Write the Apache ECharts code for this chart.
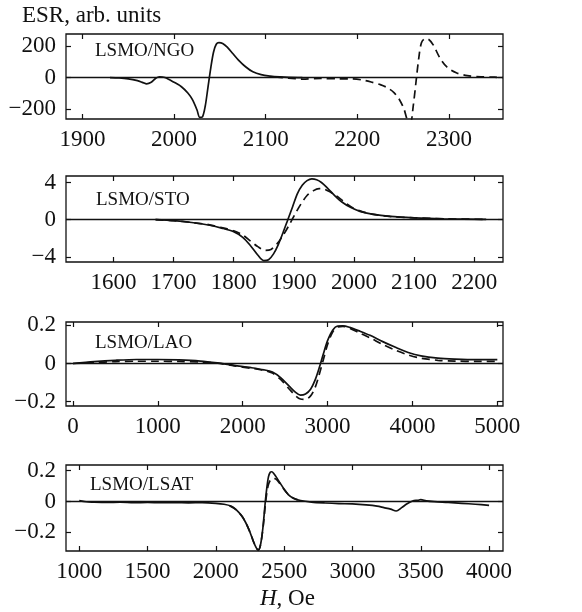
<!DOCTYPE html>
<html>
<head>
<meta charset="utf-8">
<script src="https://cdn.jsdelivr.net/npm/echarts@6/dist/echarts.min.js"></script>
<style>
  html, body { margin: 0; padding: 0; background: #fff; }
  #chart { width: 582px; height: 612px; }
</style>
</head>
<body>
<div id="chart"></div>
<script>
// ESR spectra of LSMO films on four substrates (field H in Oe, signal in arb. units)

// LSMO/NGO
const ngoFieldA = [1930, 1940, 1950, 1960, 1966, 1970, 1975, 1980, 1984, 1990, 2000, 2008, 2015, 2020, 2025, 2028, 2031, 2034, 2037, 2040, 2043, 2046, 2049, 2053, 2058, 2064, 2070, 2078, 2086, 2095, 2105, 2115, 2125, 2140];
const ngoSignalA = [0, -2, -8, -20, -32, -40, -30, -5, 5, 0, -30, -58, -98, -140, -205, -252, -248, -180, -60, 60, 160, 210, 220, 215, 192, 152, 112, 68, 36, 18, 9, 4, 1, 0];
const ngoFieldB = [2110, 2125, 2140, 2160, 2180, 2195, 2205, 2215, 2225, 2233, 2240, 2246, 2251, 2255, 2258, 2261, 2264, 2267, 2270, 2274, 2278, 2283, 2290, 2298, 2308, 2320, 2335, 2350, 2359];
const ngoSignalB = [4, -4, -10, -6, -8, -9, -15, -28, -45, -65, -95, -140, -200, -275, -285, -180, -30, 120, 220, 245, 240, 205, 125, 65, 30, 12, 5, 2, 0];

// LSMO/STO
const stoFieldA = [1670, 1700, 1730, 1760, 1780, 1800, 1815, 1828, 1840, 1850, 1858, 1866, 1874, 1882, 1890, 1898, 1906, 1914, 1922, 1930, 1938, 1946, 1956, 1968, 1980, 1995, 2010, 2030, 2060, 2100, 2150, 2220];
const stoSignalA = [0, -0.1, -0.3, -0.6, -0.9, -1.3, -1.9, -2.8, -3.8, -4.4, -4.3, -3.7, -2.7, -1.4, 0, 1.4, 2.8, 3.7, 4.2, 4.4, 4.3, 4.0, 3.4, 2.6, 1.9, 1.3, 0.9, 0.6, 0.35, 0.2, 0.1, 0.03];
const stoFieldB = [1670, 1700, 1730, 1760, 1780, 1800, 1815, 1828, 1840, 1852, 1862, 1872, 1882, 1892, 1902, 1912, 1922, 1932, 1942, 1950, 1960, 1970, 1982, 1995, 2010, 2030, 2060, 2100, 2150, 2220];
const stoSignalB = [0, -0.1, -0.3, -0.55, -0.85, -1.2, -1.65, -2.3, -2.9, -3.3, -3.2, -2.6, -1.7, -0.6, 0.6, 1.7, 2.6, 3.1, 3.35, 3.3, 3.0, 2.6, 2.0, 1.4, 0.95, 0.6, 0.35, 0.2, 0.1, 0.03];

// LSMO/LAO
const laoField = [0, 250, 500, 750, 1000, 1250, 1500, 1700, 1900, 2100, 2250, 2350, 2450, 2550, 2620, 2680, 2740, 2800, 2850, 2900, 2950, 3000, 3060, 3120, 3180, 3260, 3380, 3500, 3650, 3800, 3950, 4100, 4300, 4500, 4750, 5000];
const laoSignalA = [0, 0.01, 0.017, 0.021, 0.021, 0.019, 0.013, 0.003, -0.01, -0.022, -0.033, -0.045, -0.075, -0.12, -0.15, -0.166, -0.16, -0.135, -0.09, -0.025, 0.05, 0.12, 0.175, 0.197, 0.198, 0.19, 0.17, 0.148, 0.115, 0.085, 0.058, 0.04, 0.028, 0.023, 0.02, 0.02];
const laoSignalB = [0, 0.005, 0.01, 0.012, 0.012, 0.011, 0.008, 0.002, -0.012, -0.025, -0.036, -0.05, -0.085, -0.135, -0.168, -0.186, -0.188, -0.17, -0.13, -0.06, 0.02, 0.1, 0.165, 0.192, 0.195, 0.185, 0.16, 0.135, 0.1, 0.07, 0.045, 0.028, 0.017, 0.013, 0.011, 0.011];

// LSMO/LSAT
const lsatFieldA = [1000, 1050, 1100, 1200, 1300, 1400, 1500, 1600, 1700, 1800, 1900, 2000, 2060, 2110, 2150, 2190, 2220, 2250, 2275, 2295, 2310, 2322, 2335, 2348, 2360, 2372, 2385, 2398, 2410, 2425, 2445, 2470, 2500, 2530, 2570, 2620, 2700, 2800, 2900, 3000, 3100, 3180, 3230, 3280, 3320, 3360, 3400, 3440, 3480, 3500, 3540, 3600, 3700, 3800, 3900, 4000];
const lsatSignalA = [0.005, -0.002, -0.004, -0.006, -0.005, -0.008, -0.006, -0.008, -0.007, -0.009, -0.008, -0.012, -0.018, -0.03, -0.055, -0.095, -0.14, -0.2, -0.26, -0.3, -0.318, -0.3, -0.24, -0.14, -0.02, 0.08, 0.16, 0.19, 0.193, 0.18, 0.155, 0.12, 0.08, 0.045, 0.02, 0.006, -0.004, -0.01, -0.014, -0.016, -0.022, -0.03, -0.04, -0.05, -0.062, -0.04, -0.015, 0.003, 0.008, 0.012, 0.004, -0.001, -0.006, -0.012, -0.018, -0.025];
const lsatFieldB = [2100, 2150, 2190, 2220, 2250, 2275, 2295, 2310, 2322, 2335, 2348, 2360, 2372, 2385, 2400, 2420, 2440, 2465, 2490, 2520, 2560, 2600];
const lsatSignalB = [-0.028, -0.055, -0.095, -0.14, -0.2, -0.26, -0.3, -0.315, -0.3, -0.24, -0.15, -0.04, 0.05, 0.11, 0.14, 0.15, 0.145, 0.12, 0.09, 0.055, 0.025, 0.01];

// Tick values
const ngoXTicks = [1900, 2000, 2100, 2200, 2300];
const ngoYTicks = [-200, 0, 200];
const stoXTicks = [1600, 1700, 1800, 1900, 2000, 2100, 2200];
const stoYTicks = [-4, 0, 4];
const laoXTicks = [0, 1000, 2000, 3000, 4000, 5000];
const laoYTicks = [-0.2, 0, 0.2];
const lsatXTicks = [1000, 1500, 2000, 2500, 3000, 3500, 4000];
const lsatYTicks = [-0.2, 0, 0.2];

const zip = (xs, ys) => xs.map((x, i) => [x, ys[i]]);

const FONT = 'Liberation Serif';
const INK = '#111';
const LABEL_SIZE = 23;

const panels = [
  { name: 'LSMO/NGO', top: 34, height: 85, xMin: 1882, xMax: 2359, yMin: -262, yMax: 275,
    xTicks: ngoXTicks, yTicks: ngoYTicks, nameTop: 42, nameLeft: 95,
    lines: [zip(ngoFieldA, ngoSignalA), zip(ngoFieldB, ngoSignalB)] },
  { name: 'LSMO/STO', top: 176, height: 86, xMin: 1521, xMax: 2248, yMin: -4.55, yMax: 4.7,
    xTicks: stoXTicks, yTicks: stoYTicks, nameTop: 191, nameLeft: 96,
    lines: [zip(stoFieldA, stoSignalA), zip(stoFieldB, stoSignalB)] },
  { name: 'LSMO/LAO', top: 322, height: 84, xMin: -82, xMax: 5067, yMin: -0.223, yMax: 0.218,
    xTicks: laoXTicks, yTicks: laoYTicks, nameTop: 334, nameLeft: 95,
    lines: [zip(laoField, laoSignalA), zip(laoField, laoSignalB)] },
  { name: 'LSMO/LSAT', top: 465, height: 86, xMin: 903, xMax: 4102, yMin: -0.322, yMax: 0.237,
    xTicks: lsatXTicks, yTicks: lsatYTicks, nameTop: 476, nameLeft: 90,
    lines: [zip(lsatFieldA, lsatSignalA), zip(lsatFieldB, lsatSignalB)] }
];

const fmt = v => {
  const s = String(Math.abs(Math.round(v * 1000) / 1000));
  return v < 0 ? '\u2212' + s : s;
};

const grid = [], xAxis = [], yAxis = [], series = [], graphic = [];

panels.forEach((p, i) => {
  grid.push({ left: 66, width: 437, top: p.top, height: p.height, show: true,
    borderColor: INK, borderWidth: 1.3, backgroundColor: 'transparent' });

  const tick = vals => ({ show: true, inside: true, length: 5, customValues: vals,
    lineStyle: { color: INK, width: 1.2 } });
  const hiddenLine = { show: false, onZero: false };

  xAxis.push({ type: 'value', gridIndex: i, min: p.xMin, max: p.xMax, position: 'bottom',
    axisLine: hiddenLine, splitLine: { show: false },
    axisTick: tick(p.xTicks),
    axisLabel: { customValues: p.xTicks, formatter: fmt, fontFamily: FONT, fontSize: LABEL_SIZE,
      color: INK, margin: 9 } });
  xAxis.push({ type: 'value', gridIndex: i, min: p.xMin, max: p.xMax, position: 'top',
    axisLine: hiddenLine, splitLine: { show: false },
    axisTick: tick(p.xTicks), axisLabel: { show: false } });

  yAxis.push({ type: 'value', gridIndex: i, min: p.yMin, max: p.yMax, position: 'left',
    axisLine: hiddenLine, splitLine: { show: false },
    axisTick: tick(p.yTicks),
    axisLabel: { customValues: p.yTicks, formatter: fmt, fontFamily: FONT, fontSize: LABEL_SIZE,
      color: INK, margin: 10 } });
  yAxis.push({ type: 'value', gridIndex: i, min: p.yMin, max: p.yMax, position: 'right',
    axisLine: hiddenLine, splitLine: { show: false },
    axisTick: tick(p.yTicks), axisLabel: { show: false } });

  p.lines.forEach((data, k) => {
    series.push({
      type: 'line', xAxisIndex: 2 * i, yAxisIndex: 2 * i, data,
      showSymbol: false, smooth: 0.3, clip: true,
      lineStyle: { color: INK, width: 1.7, type: k === 0 ? 'solid' : [8, 5] },
      markLine: k === 0 ? {
        silent: true, symbol: 'none', animation: false, label: { show: false },
        lineStyle: { color: INK, width: 1.3, type: 'solid' },
        data: [{ yAxis: 0 }]
      } : undefined
    });
  });

  graphic.push({ type: 'text', left: p.nameLeft, top: p.nameTop,
    style: { text: p.name, font: '19px "Liberation Serif"', fill: INK } });
});

graphic.push({ type: 'text', left: 22, top: 4,
  style: { text: 'ESR, arb. units', font: '23px "Liberation Serif"', fill: INK } });
graphic.push({ type: 'text', left: 260, top: 587,
  style: { text: '{i|H}, Oe', font: '23px "Liberation Serif"', fill: INK,
    rich: { i: { fontStyle: 'italic', fontFamily: FONT, fontSize: 23, fill: INK } } } });

const chart = echarts.init(document.getElementById('chart'), null, { renderer: 'canvas' });
chart.setOption({ animation: false, backgroundColor: '#fff', grid, xAxis, yAxis, series, graphic });
</script>
</body>
</html>
